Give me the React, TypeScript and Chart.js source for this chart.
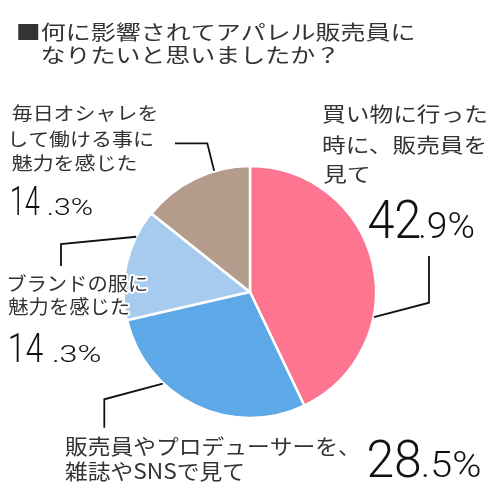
import React, { useEffect, useRef } from 'react';
import { Chart, registerables } from 'chart.js';

Chart.register(...registerables);

// ---- data ----
const categories = [
  '買い物に行った時に、販売員を見て',
  '販売員やプロデューサーを、雑誌やSNSで見て',
  'ブランドの服に魅力を感じた',
  '毎日オシャレをして働ける事に魅力を感じた',
];
const values = [42.9, 28.5, 14.3, 14.3];
const labelLines = [
  ['買い物に行った', '時に、販売員を', '見て'],
  ['販売員やプロデューサーを、', '雑誌やSNSで見て'],
  ['ブランドの服に', '魅力を感じた'],
  ['毎日オシャレを', 'して働ける事に', '魅力を感じた'],
];
const percentMain = ['42', '28', '14', '14'];
const percentFrac = ['.9%', '.5%', '.3%', '.3%'];
const titleLines = ['■何に影響されてアパレル販売員に', 'なりたいと思いましたか？'];
const colors = ['#FE7590', '#5DA8E6', '#A6CBEF', '#B49B8B'];

// ---- layout (positions / styles) ----
const CJK = "'Noto Sans CJK JP', 'Noto Sans', sans-serif";
const NUM = "Roboto, 'Noto Sans', sans-serif";

type LabelLayout = {
  inkLeft: number; inkRight: number; ys: number[]; size: number;
  pct: { left: number; right: number; base: number; size: number; fLeft: number; fRight: number; fSize: number };
  leader: { frac: number; pts: number[][] };
};

const layouts: LabelLayout[] = [
  {
    inkLeft: 323.3, inkRight: 486.7, ys: [114, 145.8, 174], size: 20,
    pct: { left: 368.3, right: 420, base: 238.3, size: 53, fLeft: 420, fRight: 473.3, fSize: 36 },
    leader: { frac: 0.657, pts: [[429, 302.7], [429, 256]] },
  },
  {
    inkLeft: 65, inkRight: 346.7, ys: [446.3, 470.8], size: 21,
    pct: { left: 368.3, right: 420, base: 476.7, size: 52, fLeft: 423, fRight: 480, fSize: 37 },
    leader: { frac: 0.674, pts: [[104.3, 399.3], [104.3, 427.7]] },
  },
  {
    inkLeft: 8.3, inkRight: 146.7, ys: [284, 306.7], size: 19.5,
    pct: { left: 10, right: 43.3, base: 361.7, size: 41, fLeft: 53.3, fRight: 100, fSize: 23 },
    leader: { frac: 0.755, pts: [[61, 244], [61, 266]] },
  },
  {
    inkLeft: 11.7, inkRight: 156.7, ys: [113.3, 139.2, 163.3], size: 18.5,
    pct: { left: 11.7, right: 40, base: 215, size: 41, fLeft: 48, fRight: 91.7, fSize: 23 },
    leader: { frac: 0.68, pts: [[207.3, 143.3], [175, 143.3]] },
  },
];

const title = { inkLeft: 18.3, inkRight: 413, line2Left: 41.7, ys: [32, 55], size: 20 };

function drawScaledLines(
  ctx: CanvasRenderingContext2D, lines: string[], font: string, inkLeft: number,
  inkRight: number, ys: number[], color: string, halo: boolean, altLefts?: number[]
) {
  ctx.save();
  ctx.font = font;
  ctx.textAlign = 'left';
  ctx.textBaseline = 'middle';
  const m0 = ctx.measureText(lines[0]);
  const inkW = m0.actualBoundingBoxLeft + m0.actualBoundingBoxRight;
  const sx = (inkRight - inkLeft) / inkW;
  lines.forEach((line, i) => {
    const m = ctx.measureText(line);
    const left = altLefts && altLefts[i] !== undefined ? altLefts[i] : inkLeft;
    const x = left + sx * m.actualBoundingBoxLeft;
    ctx.save();
    ctx.translate(x, ys[i]);
    ctx.scale(sx, 1);
    if (halo) {
      ctx.strokeStyle = '#ffffff';
      ctx.lineWidth = 4;
      ctx.lineJoin = 'round';
      ctx.strokeText(line, 0, 0);
    }
    ctx.fillStyle = color;
    ctx.fillText(line, 0, 0);
    ctx.restore();
  });
  ctx.restore();
}

function drawFitted(ctx: CanvasRenderingContext2D, text: string, font: string, inkLeft: number, inkRight: number, base: number) {
  ctx.save();
  ctx.font = font;
  ctx.textAlign = 'left';
  ctx.textBaseline = 'alphabetic';
  const m = ctx.measureText(text);
  const w = m.actualBoundingBoxLeft + m.actualBoundingBoxRight;
  const sx = (inkRight - inkLeft) / w;
  ctx.translate(inkLeft + sx * m.actualBoundingBoxLeft, base);
  ctx.scale(sx, 1);
  ctx.fillStyle = '#111111';
  ctx.fillText(text, 0, 0);
  ctx.restore();
}

const labelPlugin = {
  id: 'labelPlugin',
  afterDraw(chart: any) {
    const ctx: CanvasRenderingContext2D = chart.ctx;
    const meta = chart.getDatasetMeta(0);
    // leader lines
    meta.data.forEach((arc: any, i: number) => {
      const L = layouts[i];
      const p = arc.getProps(['x', 'y', 'startAngle', 'endAngle', 'outerRadius'], true);
      const a = p.startAngle + L.leader.frac * (p.endAngle - p.startAngle);
      const r = p.outerRadius + 0.5;
      ctx.save();
      ctx.strokeStyle = '#111111';
      ctx.lineWidth = 1.8;
      ctx.lineJoin = 'miter';
      ctx.beginPath();
      ctx.moveTo(p.x + Math.cos(a) * r, p.y + Math.sin(a) * r);
      L.leader.pts.forEach((pt) => ctx.lineTo(pt[0], pt[1]));
      ctx.stroke();
      ctx.restore();
    });
    // category labels and percentages
    layouts.forEach((L, i) => {
      drawScaledLines(ctx, labelLines[i], `400 ${L.size}px ${CJK}`, L.inkLeft, L.inkRight, L.ys, '#333333', true);
      drawFitted(ctx, percentMain[i], `300 ${L.pct.size}px ${NUM}`, L.pct.left, L.pct.right, L.pct.base);
      drawFitted(ctx, percentFrac[i], `300 ${L.pct.fSize}px ${NUM}`, L.pct.fLeft, L.pct.fRight, L.pct.base);
    });
    // title
    drawScaledLines(ctx, titleLines, `400 ${title.size}px ${CJK}`, title.inkLeft, title.inkRight, title.ys, '#333333', false, [title.inkLeft, title.line2Left]);
  },
};

export default function App() {
  const ref = useRef<HTMLCanvasElement>(null);
  useEffect(() => {
    document.body.style.margin = '0';
    document.body.style.background = '#ffffff';
    const canvas = ref.current!;
    const chart = new Chart(canvas, {
      type: 'pie',
      data: {
        labels: categories,
        datasets: [
          {
            data: values,
            backgroundColor: colors,
            borderColor: '#ffffff',
            borderWidth: 2.5,
            offset: [0, 0, 2, 0],
          },
        ],
      },
      options: {
        responsive: false,
        animation: false,
        radius: 126,
        layout: { padding: { top: 150, bottom: 65, left: 0, right: 0 } },
        plugins: {
          legend: { display: false },
          tooltip: { enabled: false },
          title: { display: false },
        },
        events: [],
      } as any,
      plugins: [labelPlugin],
    });
    const fonts: any = (document as any).fonts;
    if (fonts && fonts.ready) fonts.ready.then(() => chart.draw());
    return () => chart.destroy();
  }, []);
  return (
    <div style={{ width: 500, height: 499, background: '#fff' }}>
      <canvas ref={ref} width={500} height={499} style={{ display: 'block', width: 500, height: 499 }} />
    </div>
  );
}
